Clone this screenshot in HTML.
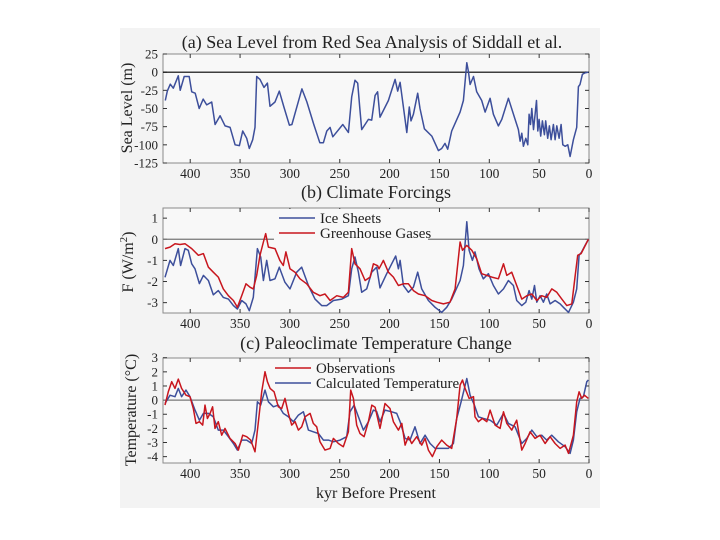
<!DOCTYPE html>
<html><head><meta charset="utf-8"><style>
html,body{margin:0;padding:0;background:#fff;}
svg{display:block;font-family:"Liberation Serif",serif;}
</style></head><body>
<svg id="fig" width="720" height="540" viewBox="0 0 720 540" xmlns="http://www.w3.org/2000/svg">
<rect x="120" y="28" width="480" height="480" fill="#f3f3f3"/>
<g id="layer"></g>
</svg>
<script>
// ---- data ----
const xTicks = [400,350,300,250,200,150,100,50,0];
const seaTicks = [25,0,-25,-50,-75,-100,-125];
const forceTicks = [1,0,-1,-2,-3];
const tempTicks = [3,2,1,0,-1,-2,-3,-4];

const seaKyr = [425,423,420,417,412,410,406,401,398.5,395,391,387,383.5,378.5,375,370,365,360,355,350.7,347.4,343.3,340.7,337.3,335,333.3,330,326,322.6,320,315,310.6,306,300.5,298,288,283,276,270,266.4,263,259.7,257,247,241.3,238,234.7,232,230,228,221.3,218,214.6,212,209.6,201.2,194.5,191.9,189.5,186.2,182.8,180.2,178.5,176.1,171.8,169.5,165.1,157.7,151.1,147.7,144.4,141.7,137.7,129.3,126,122.6,121,119.3,115.9,112.6,107.6,104.2,99.2,95.9,90.9,87.5,80.8,74.1,70.8,69.1,67.4,65.8,63.4,61.4,60.1,58.7,57.4,55.7,54.1,52.7,51.4,50.1,48.4,46.7,44.7,43.4,41.4,39.7,38,35.7,34,32.3,30,28,26.3,24,21.3,19,15.6,12.3,10.6,9,6.6,4,0.6];
const seaVal = [-39,-26,-16.5,-22,-5,-25,-6,-6,-27,-29,-50,-37,-45,-41,-72,-60,-74,-76,-100,-101,-81,-91,-105,-93,-76,-6,-10,-21,-15,-47,-41,-26,-48,-73,-72,-23,-41,-72,-97,-97,-81,-76,-89,-72,-83,-34,-11,-15,-48,-79,-65,-66,-32,-27,-62,-39,-10,-26,-14,-48,-83,-48,-67,-58,-29,-50,-78,-88,-108,-105,-98,-106,-81,-55,-39,13,1,-17,-6,-27,-39,-55,-36,-58,-74,-65,-36,-65,-79,-95,-84,-102,-91,-100,-58,-72,-50,-79,-58,-39,-81,-65,-88,-67,-86,-67,-91,-74,-93,-72,-93,-74,-91,-72,-100,-102,-100,-116,-93,-76,-20,-17,-3,-1,0];

const iceKyr = [425.3,420.3,417,412,409.6,405.2,401.9,398.5,395.2,390.8,386.8,381.8,376.8,371.8,366.8,361.7,356.7,352.7,348.4,344,340.7,336.7,332.6,329.3,326.6,323.3,320,315,310.6,305,299.9,293.2,288.2,281.5,274.8,268.1,263.1,256.4,248,241.3,238,234.7,231.3,228,223,218,212.9,209.6,202.9,197.9,193.9,191.2,189.5,186.2,181.2,176.1,171.8,167.8,161.1,154.4,147.7,142.7,137.7,129.3,126,122.6,120.3,117,114.3,110.3,106,100.9,95.9,90.9,85.8,80.8,75.8,72.5,67.4,63.4,60.1,57.4,54.7,52.4,49,45.7,42.4,39,34,29,25.7,20.6,15.6,12.3,9.9,7.3,3.9,0.6];
const iceVal = [-1.8,-1.0,-1.24,-0.44,-1.24,-0.44,-0.52,-1.16,-1.4,-2.1,-1.71,-1.95,-2.63,-2.43,-2.75,-2.83,-3.14,-3.3,-2.9,-3.06,-3.38,-2.75,-0.44,-0.84,-1.95,-1.0,-1.95,-1.87,-1.32,-2.03,-2.35,-1.56,-1.32,-2.19,-2.83,-3.14,-3.14,-2.9,-2.83,-2.67,-1.4,-0.84,-1.56,-2.51,-2.35,-1.56,-1.32,-2.3,-1.63,-1.16,-0.79,-1.4,-1.0,-2.19,-2.51,-2.27,-1.56,-2.35,-2.9,-3.22,-3.46,-3.22,-2.83,-1.95,-1.24,0.83,-0.52,-1.0,-0.6,-1.4,-1.87,-1.63,-2.19,-2.59,-2.35,-1.95,-2.19,-2.9,-3.14,-2.98,-2.43,-2.83,-2.19,-2.98,-2.67,-2.98,-2.59,-3.06,-2.9,-3.06,-3.22,-3.46,-2.98,-2.35,-0.76,-0.6,-0.29,0];

const ghgKyr = [425.3,420.3,415.3,410.2,405.2,398.5,391.8,386.8,381.8,376.8,371.8,366.8,361.7,356.7,352.7,348.4,344,340,336.7,333.3,330,326.6,324.3,321.6,315,310,306.6,304,299.9,294.9,289.9,283.2,276.5,269.8,264.8,259.7,253,246.4,241.3,238,234.7,229.7,224.6,219.6,216.3,212,210.6,206.2,201.2,196.2,191.2,186.2,181.2,176.1,171.1,164.4,157.7,152.7,146,139.4,134.3,129.3,126.9,122.6,117.6,112.6,107.6,102.5,97.5,90.9,85.8,82.5,77.5,72.5,67.4,62.4,57.4,52.4,47.4,42.4,37.3,32.3,27.3,22.3,17.3,14,11.3,7.9,4.6,0.6];
const ghgVal = [-0.44,-0.37,-0.21,-0.25,-0.21,-0.44,-0.76,-0.68,-1.32,-1.56,-1.79,-2.35,-2.67,-2.9,-3.22,-2.67,-2.11,-2.27,-2.35,-1.71,-0.76,-0.13,0.27,-0.37,-0.44,-1.0,-1.24,-0.6,-1.4,-1.56,-1.87,-2.11,-2.51,-2.67,-2.59,-2.9,-2.67,-2.75,-2.51,-0.44,-1.16,-1.4,-1.95,-1.79,-1.16,-1.25,-1.4,-1.0,-1.56,-1.79,-2.19,-2.11,-2.11,-2.43,-2.59,-2.67,-2.9,-2.98,-3.06,-2.98,-2.35,-0.13,-0.52,-0.29,-0.52,-0.92,-1.63,-1.71,-1.79,-1.87,-1.16,-1.71,-1.56,-2.19,-2.83,-2.67,-2.59,-2.9,-2.67,-2.75,-2.35,-2.51,-2.83,-3.14,-3.06,-1.79,-0.76,-0.68,-0.37,0];

const obsKyr = [425.3,422,418.6,415.3,412,408.6,404.2,400.2,396.9,394.2,390.8,387.5,385.2,382.8,380.1,377.5,375.1,371.8,368.4,365.1,360.1,355,351.7,347.4,343.3,339.3,335,331.6,328.3,325,322.6,319.9,315.9,311.6,308.2,304.9,301.5,298.2,294.8,291.5,288.2,284.8,279.8,276.5,273.1,269.8,264.8,259.7,256.4,251.4,246.4,241.3,239,236.3,233,229.7,225.6,221.3,217.9,214.6,209.6,204.6,199.6,196.2,191.2,187.8,184.5,181.2,177.8,172.8,167.8,164.4,161.1,157.1,152.7,147.7,142.7,137.7,132.7,129.3,126.9,124.3,120.3,115.9,114.3,110.9,106.9,102.5,99.2,94.2,89.2,85.8,82.5,77.5,72.5,67.4,64.1,59.1,54.1,49.1,44,39,34,29,24,20.6,15.6,12.3,9.9,7.3,4.6,0.6];
const obsVal = [-0.35,0.59,1.3,0.83,1.49,0.83,0.35,0.24,-0.59,-1.65,-1.53,-1.77,-0.35,-1.3,-0.94,-0.47,-2.0,-1.53,-2.48,-2.0,-2.71,-3.07,-3.54,-2.48,-2.59,-2.83,-3.66,-1.53,0.59,2.0,1.3,0.83,0.59,-0.47,-0.59,0.12,-0.94,-1.77,-1.53,-2.12,-1.89,-1.18,-0.94,-1.65,-1.89,-2.95,-3.54,-3.42,-2.71,-3.07,-3.3,-2.24,0.71,0.12,-1.77,-2.36,-2.59,-1.53,-0.35,-0.5,-2.0,-0.24,-0.59,-1.53,-2.12,-1.65,-3.18,-2.59,-3.07,-2.59,-3.18,-2.71,-3.54,-4.0,-3.3,-2.83,-3.18,-3.42,-1.3,1.06,1.42,0.83,0.12,0.24,-1.18,-1.53,-1.3,-1.53,-0.71,-1.77,-2.0,-0.83,-1.65,-2.12,-1.42,-3.54,-3.07,-2.24,-2.71,-2.48,-3.07,-2.59,-3.07,-3.42,-3.18,-3.77,-2.48,-0.12,0.59,0.12,0.35,0.12];

const calcKyr = [425.3,420.3,415.3,412,408.6,404.2,400.2,395.2,390.8,386.8,381.8,376.8,371.8,366.8,361.7,356.7,352.7,348.4,343.3,338.3,335,332.6,329.3,325,321.6,316.6,311.6,306.6,301.5,296.5,291.5,286.5,281.5,276.5,271.4,266.4,261.4,256.4,249.7,243,239.7,235.6,231.3,226.3,221.3,216.3,213,209.6,204.6,197.9,192.9,189.5,184.5,179.5,174.5,169.5,164.4,159.4,154.4,147.7,141,136,132.7,128.3,125,122.6,119.3,114.9,110.9,105.9,99.2,92.5,85.8,80.8,74.1,67.4,62.4,57.4,52.4,47.4,42.4,37.4,30.7,24,19,15.6,12.3,9,5.6,2.2,0.6];
const calcVal = [-0.24,0.35,0.24,0.83,0.24,0.71,0.24,-0.71,-1.42,-0.94,-0.94,-1.18,-2.12,-2.12,-2.59,-3.07,-3.54,-2.83,-2.83,-3.07,-2.12,-0.12,-0.35,0.71,-0.12,-0.47,-0.35,-0.94,-1.18,-1.53,-1.06,-0.83,-2.12,-2.24,-2.36,-2.83,-2.83,-2.95,-2.83,-2.59,-0.83,-0.35,-1.18,-2.12,-1.53,-0.71,-0.8,-1.53,-0.71,-0.83,-0.94,-1.53,-2.71,-2.83,-1.89,-3.07,-2.48,-3.07,-3.42,-3.42,-3.42,-3.07,-1.3,-0.12,0.83,1.53,0.35,-0.35,-1.18,-1.3,-1.42,-1.77,-0.94,-1.65,-1.89,-3.07,-2.71,-2.12,-2.59,-2.48,-2.83,-2.48,-2.95,-3.3,-3.77,-2.83,-0.83,0.12,0.24,1.3,1.42];

// ---- layout ----
const NS = "http://www.w3.org/2000/svg";
const layer = document.getElementById('layer');
const L = 163, R = 589, XMAX = 427.3;
function xs(k){ return R - (k / XMAX) * (R - L); }
function mk(tag, attrs, parent){ const e = document.createElementNS(NS, tag); for (const k in attrs) e.setAttribute(k, attrs[k]); (parent||layer).appendChild(e); return e; }
function txt(s, attrs, parent){ const e = mk('text', attrs, parent); e.textContent = s; return e; }

const panels = [
  {id:'sea-level', top:54, bot:163, ymax:25, ymin:-125, ticks:seaTicks, zeroColor:'#000'},
  {id:'forcing', top:208, bot:313, ymax:1.48, ymin:-3.49, ticks:forceTicks, zeroColor:'#777'},
  {id:'temperature', top:358, bot:463, ymax:2.98, ymin:-4.45, ticks:tempTicks, zeroColor:'#777'}
];
panels.forEach(p => { p.ys = v => p.top + (p.ymax - v) / (p.ymax - p.ymin) * (p.bot - p.top); });

function drawAxes(p){
  const g = mk('g', {});
  
  
  const fr = mk('rect', {x:L, y:p.top, width:R-L, height:p.bot-p.top, fill:'#f8f8f8', stroke:'#8a8a8a', 'stroke-width':1}, g);
  
  
  xTicks.forEach(t => {
    const x = xs(t);
    mk('line', {x1:x, x2:x, y1:p.top, y2:p.top+4, stroke:'#333', 'stroke-width':1}, g);
    mk('line', {x1:x, x2:x, y1:p.bot, y2:p.bot-4, stroke:'#333', 'stroke-width':1}, g);
    const tl = txt(String(t), {x:x, y:p.bot+15, 'text-anchor':'middle', 'font-size':13.5, fill:'#222'}, g);
    
    
  });
  p.ticks.forEach(t => {
    const y = p.ys(t);
    mk('line', {x1:L, x2:L+4, y1:y, y2:y, stroke:'#333', 'stroke-width':1}, g);
    mk('line', {x1:R, x2:R-4, y1:y, y2:y, stroke:'#333', 'stroke-width':1}, g);
    const tl = txt(String(t), {x:L-5, y:y+4.5, 'text-anchor':'end', 'font-size':13, fill:'#222'}, g);
    
    
  });
  const z = mk('line', {x1:L, x2:R, y1:p.ys(0), y2:p.ys(0), stroke:p.zeroColor, 'stroke-width':1.2}, g);
  
  
}
function drawLine(p, kyr, vals, color, name){
  const d = kyr.map((k,i) => (i?'L':'M') + xs(k).toFixed(1) + ',' + p.ys(vals[i]).toFixed(1)).join('');
  const path = mk('path', {d:d, fill:'none', stroke:color, 'stroke-width':1.5, 'stroke-linejoin':'round'});
  
  
}
const BLUE = '#3d4f9b', RED = '#c8161e';
panels.forEach(drawAxes);

const lgB = mk('rect', {x:274, y:209, width:154, height:38, fill:'#f8f8f8'});



drawLine(panels[0], seaKyr, seaVal, BLUE, 'sea-level-line');
drawLine(panels[1], iceKyr, iceVal, BLUE, 'ice-sheets-line');
drawLine(panels[1], ghgKyr, ghgVal, RED, 'greenhouse-gases-line');
drawLine(panels[2], calcKyr, calcVal, BLUE, 'calculated-temperature-line');
drawLine(panels[2], obsKyr, obsVal, RED, 'observations-line');

function legend(x, y, color, label, name){
  const g = mk('g', {});
  
  
  mk('line', {x1:x, x2:x+36, y1:y, y2:y, stroke:color, 'stroke-width':1.6}, g);
  txt(label, {x:x+41, y:y+5, 'font-size':15, fill:'#222'}, g);
}
legend(279, 218, BLUE, 'Ice Sheets', 'legend-ice-sheets');
legend(279, 233, RED, 'Greenhouse Gases', 'legend-greenhouse-gases');
legend(275, 368, RED, 'Observations', 'legend-observations');
legend(275, 383, BLUE, 'Calculated Temperature', 'legend-calculated-temperature');

const titles = [['(a)  Sea Level from Red Sea Analysis of Siddall et al.', 372, 48, 'title-a'],
                ['(b)  Climate Forcings', 376, 198, 'title-b'],
                ['(c)  Paleoclimate Temperature Change', 376, 349, 'title-c']];
titles.forEach(t => {
  const e = txt(t[0], {x:t[1], y:t[2], 'text-anchor':'middle', 'font-size':18, fill:'#222'});
  
  
});
const xl = txt('kyr Before Present', {x:376, y:498, 'text-anchor':'middle', 'font-size':16, fill:'#222'});



const yl1 = txt('Sea Level (m)', {x:0, y:0, 'text-anchor':'middle', 'font-size':16, fill:'#222', transform:'translate(132,108) rotate(-90)'});


const yl2 = mk('text', {x:0, y:0, 'text-anchor':'middle', 'font-size':16, fill:'#222', transform:'translate(133,262) rotate(-90)'});
yl2.innerHTML = 'F (W/m<tspan dy="-6" font-size="11">2</tspan><tspan dy="6">)</tspan>';


const yl3 = txt('Temperature (°C)', {x:0, y:0, 'text-anchor':'middle', 'font-size':16, fill:'#222', transform:'translate(136,410) rotate(-90)'});


</script>
</body></html>
